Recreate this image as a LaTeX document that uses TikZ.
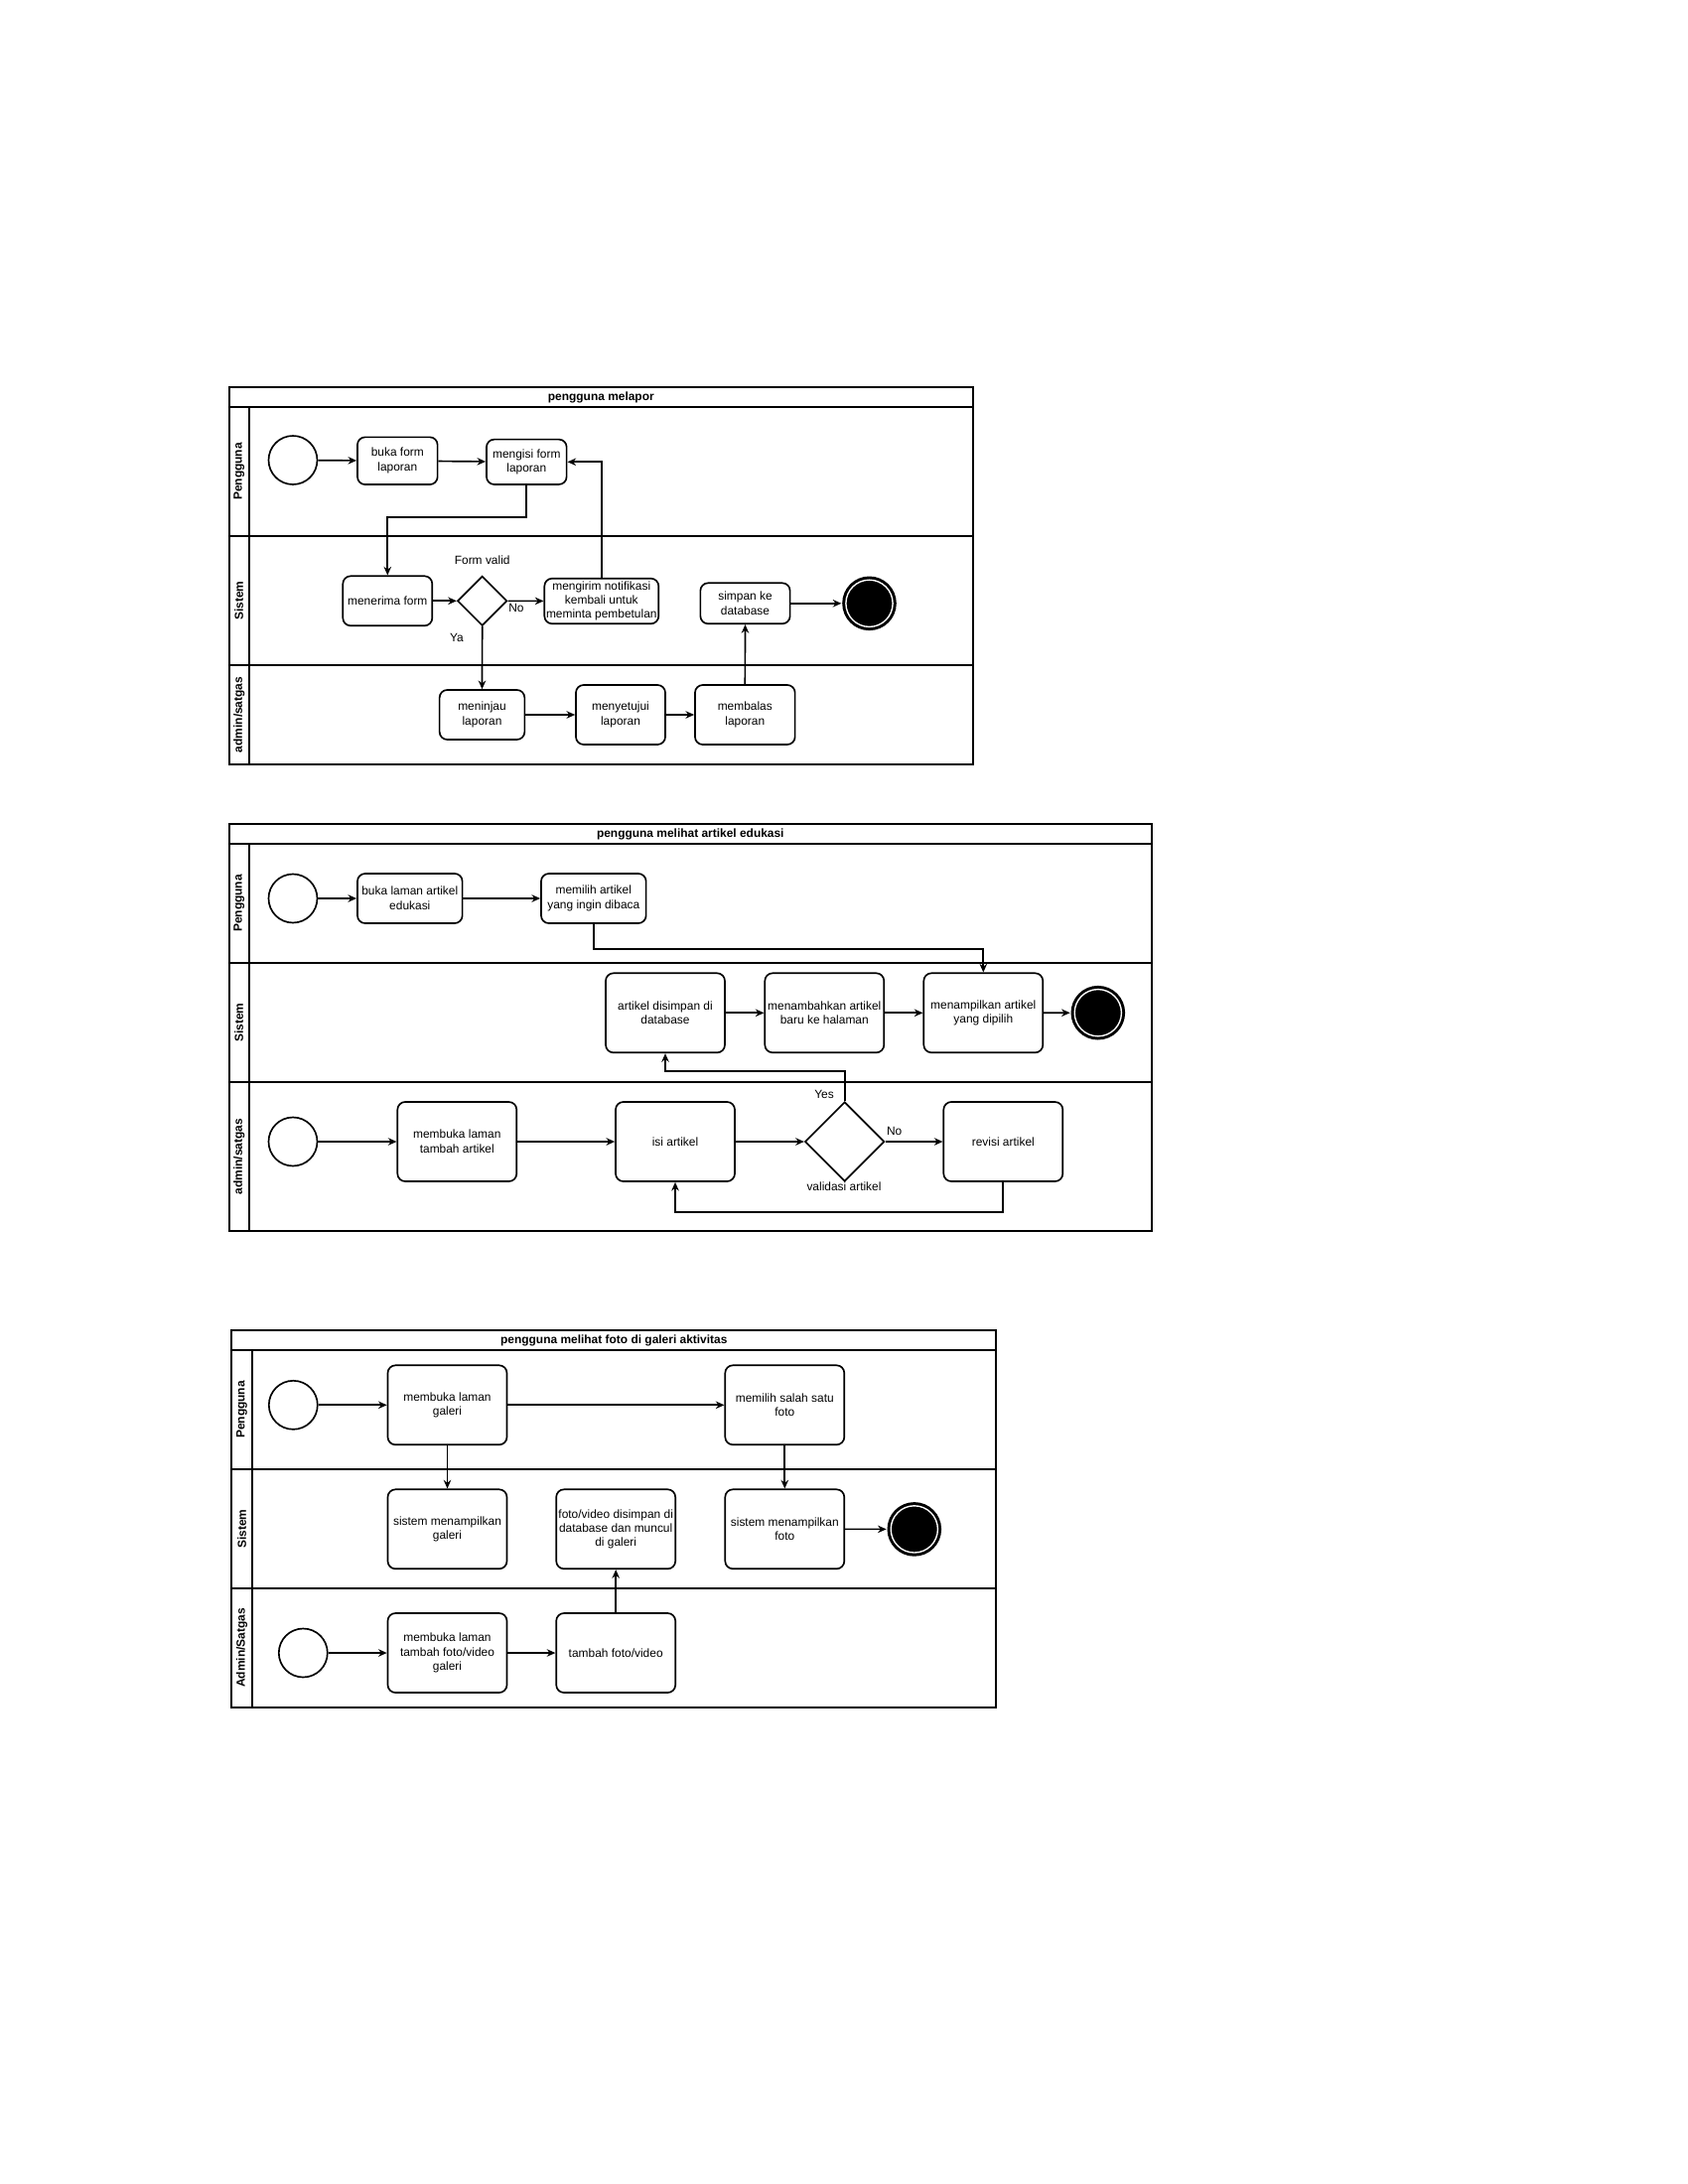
\documentclass[tikz,border=0pt]{standalone}
\usepackage{fontspec}
\setmainfont{Liberation Sans}
\usetikzlibrary{arrows.meta,shapes.geometric}
\begin{document}
\begin{tikzpicture}[x=0.36pt,y=-0.36pt,line width=0.6pt,
  every node/.style={font=\fontsize{4.3}{5.3}\selectfont},
  act/.style={draw, rounded corners=2.8pt, align=center, inner sep=0pt},
  box/.style 2 args={act, minimum width=#1*0.36pt, minimum height=#2*0.36pt},
  tight/.style={font=\fontsize{4.3}{5.1}\selectfont},
  init/.style={draw, circle, minimum size=49*0.36pt, inner sep=0pt},
  fin/.style={circle, fill=black, minimum size=54.6*0.36pt, inner sep=0pt},
  dec/.style={draw, diamond, minimum width=#1*0.36pt, minimum height=#1*0.36pt, inner sep=0pt},
  lbl/.style={inner sep=0pt},
  ttl/.style={inner sep=0pt, font=\fontsize{4.3}{5.3}\selectfont\bfseries},
  lanelab/.style={inner sep=0pt, rotate=90, font=\fontsize{4.3}{5.3}\selectfont\bfseries},
  arr/.style={-{Stealth[length=3.1pt,width=2.7pt]}},
  ring/.style={white, line width=0.5pt}]
\fill[white] (0,0) rectangle (1700,2200);
\useasboundingbox (0,0) rectangle (1700,2200);

% ================= Diagram 1 =================
\draw (230.7,390) rectangle (980,770);
\draw (230.7,410) -- (980,410);
\draw (250.7,410) -- (250.7,770);
\draw (230.7,540) -- (980,540);
\draw (230.7,670) -- (980,670);
\node[ttl] (t1) at (605.3,400) {pengguna melapor};
\node[lanelab] (l11) at (240.7,475) {Pengguna};
\node[lanelab] (l12) at (240.7,605) {Sistem};
\node[lanelab] (l13) at (240.7,720) {admin/satgas};

\node[init] (s1) at (295,463.5) {};
\node[box={80.7}{47.7}] (a1) at (400.3,464.2) {buka form\\laporan};
\node[box={80.7}{45.3}] (a2) at (530.3,465.3) {mengisi form\\laporan};
\node[box={90}{50}] (b1) at (390.3,605.3) {menerima form};
\node[dec=50] (d1) at (485.7,605.3) {};
\node[box={115}{45.6}, tight] (b2) at (605.8,605.5) {mengirim notifikasi\\kembali untuk\\meminta pembetulan};
\node[box={90.3}{41}] (b3) at (750.5,607.8) {simpan ke\\database};
\node[fin] (e1) at (875.5,607.8) {};
\draw[ring] (e1.center) circle[radius=8.5pt];
\node[box={85.7}{50}] (c1) at (485.5,720) {meninjau\\laporan};
\node[box={90}{60}] (c2) at (625,720) {menyetujui\\laporan};
\node[box={100.7}{60}] (c3) at (750.3,720) {membalas\\laporan};
\node[lbl] (fv) at (485.7,564.3) {Form valid};
\node[lbl] (n1) at (520,612.3) {No};
\node[lbl] (y1) at (460,642.7) {Ya};

\draw[arr] (s1) -- (a1);
\draw[arr] (a1) -- (a2);
\draw[arr] (a2.south) -- ++(0,32) -| (b1.north);
\draw[arr] (b1) -- (d1);
\draw[arr] (d1) -- (b2);
\draw[arr] (b2.north) |- (a2.east);
\draw[arr] (d1.south) -- (c1.north);
\draw[arr] (c1) -- (c2);
\draw[arr] (c2) -- (c3);
\draw[arr] (c3.north) -- (b3.south);
\draw[arr] (b3) -- (e1);

% ================= Diagram 2 =================
\draw (230.7,830) rectangle (1160,1240);
\draw (230.7,850) -- (1160,850);
\draw (250.7,850) -- (250.7,1240);
\draw (230.7,970) -- (1160,970);
\draw (230.7,1090) -- (1160,1090);
\node[ttl] (t2) at (695.3,840) {pengguna melihat artikel edukasi};
\node[lanelab] (l21) at (240.7,910) {Pengguna};
\node[lanelab] (l22) at (240.7,1030) {Sistem};
\node[lanelab] (l23) at (240.7,1165) {admin/satgas};

\node[init] (s2a) at (295,905) {};
\node[box={105.7}{50}] (p1) at (412.8,905) {buka laman artikel\\edukasi};
\node[box={105.7}{50}] (p2) at (597.8,905) {memilih artikel\\yang ingin dibaca};
\node[box={120}{80}] (q1) at (670,1020.3) {artikel disimpan di\\database};
\node[box={120}{80}] (q2) at (830.3,1020.3) {menambahkan artikel\\baru ke halaman};
\node[box={120}{80}] (q3) at (990.3,1020.3) {menampilkan artikel\\yang dipilih};
\node[fin] (e2) at (1105.8,1020.2) {};
\draw[ring] (e2.center) circle[radius=8.5pt];
\node[init] (s2b) at (295,1150) {};
\node[box={120}{80}] (r1) at (460.3,1150) {membuka laman\\tambah artikel};
\node[box={120}{80}] (r2) at (680,1150) {isi artikel};
\node[dec=80] (d2) at (850.7,1150) {};
\node[box={120}{80}] (r3) at (1010.3,1150) {revisi artikel};
\node[lbl] (ys2) at (830,1102.7) {Yes};
\node[lbl] (no2) at (900.7,1139.3) {No};
\node[lbl] (va2) at (850,1195) {validasi artikel};

\draw[arr] (s2a) -- (p1);
\draw[arr] (p1) -- (p2);
\draw[arr] (p2.south) -- ++(0,25) -| (q3.north);
\draw[arr] (q1) -- (q2);
\draw[arr] (q2) -- (q3);
\draw[arr] (q3) -- (e2);
\draw[arr] (s2b) -- (r1);
\draw[arr] (r1) -- (r2);
\draw[arr] (r2) -- (d2);
\draw[arr] (d2) -- (r3);
\draw[arr] (d2.north) -- ++(0,-30) -| (q1.south);
\draw[arr] (r3.south) -- ++(0,30) -| (r2.south);

% ================= Diagram 3 =================
\draw (233.3,1340) rectangle (1003.3,1720);
\draw (233.3,1360) -- (1003.3,1360);
\draw (253.7,1360) -- (253.7,1720);
\draw (233.3,1480) -- (1003.3,1480);
\draw (233.3,1600) -- (1003.3,1600);
\node[ttl] (t3) at (618.3,1350) {pengguna melihat foto di galeri aktivitas};
\node[lanelab] (l31) at (243.5,1420) {Pengguna};
\node[lanelab] (l32) at (243.5,1540) {Sistem};
\node[lanelab] (l33) at (243.5,1660) {Admin/Satgas};

\node[init] (s3a) at (295.3,1415.3) {};
\node[box={120}{80}] (m1) at (450.5,1415.3) {membuka laman\\galeri};
\node[box={120}{80}] (m2) at (790.3,1415.3) {memilih salah satu\\foto};
\node[box={120}{80}] (k1) at (450.5,1540.3) {sistem menampilkan\\galeri};
\node[box={120}{80}, tight] (k2) at (620.2,1540.3) {foto/video disimpan di\\database dan muncul\\di galeri};
\node[box={120}{80}] (k3) at (790.3,1540.3) {sistem menampilkan\\foto};
\node[fin] (e3) at (920.8,1540.4) {};
\draw[ring] (e3.center) circle[radius=8.5pt];
\node[init] (s3b) at (305.3,1665) {};
\node[box={120}{80}, tight] (u1) at (450.5,1665) {membuka laman\\tambah foto/video\\galeri};
\node[box={120}{80}] (u2) at (620.2,1665) {tambah foto/video};

\draw[arr] (s3a) -- (m1);
\draw[arr] (m1) -- (m2);
\draw[arr] (m1.south) -- (k1.north);
\draw[arr] (m2.south) -- (k3.north);
\draw[arr] (k3) -- (e3);
\draw[arr] (s3b) -- (u1);
\draw[arr] (u1) -- (u2);
\draw[arr] (u2.north) -- (k2.south);
\end{tikzpicture}
\end{document}
